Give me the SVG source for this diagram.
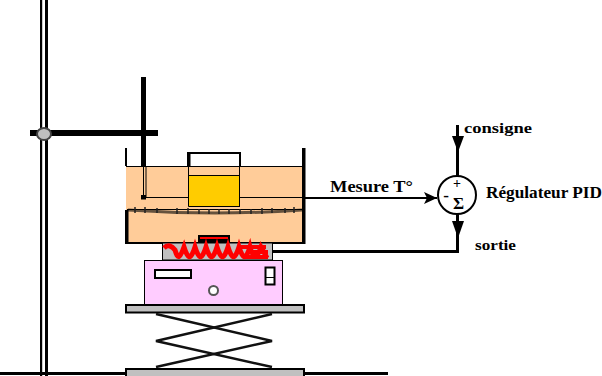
<svg xmlns="http://www.w3.org/2000/svg" width="602" height="376" viewBox="0 0 602 376">
<style>
.t{font-family:"Liberation Serif",serif;fill:#000;font-weight:bold}
.l{fill:none;stroke:#000}
.s{stroke:#111;stroke-width:2.500;fill:none}
</style>
<defs>
<marker id="a" markerUnits="userSpaceOnUse" markerWidth="14" markerHeight="14" refX="13" refY="7" orient="auto"><path d="M0 1L13 7L0 13L3 7Z" fill="#000"/></marker>
</defs>
<rect width="602" height="376" fill="#fff"/>
<g id="stand">
<rect x="40" y="0" width="2.200" height="376"/><rect x="45" y="0" width="3" height="376"/>
<rect x="0" y="372" width="388" height="3"/>
<rect x="30" y="130" width="128" height="6"/>
<rect x="141" y="77" width="5" height="90"/>
<ellipse cx="44" cy="134" rx="7" ry="6" fill="#c0c0c0" stroke="#444" stroke-width="2"/>
</g>
<g id="bath">
<rect x="126" y="166.500" width="177" height="76" fill="#fc9"/>
<path class="l" stroke-width="1" d="M126 166.500H303"/>
<path class="l" stroke-width="2" d="M126 148V166"/>
<path class="l" stroke-width="2" d="M126 210V243H304"/>
<rect x="125.500" y="210" width="3" height="34"/>
<rect x="302" y="148" width="3.500" height="96"/>
<path class="l" stroke-width="1" d="M143.500 166V197M146 166V197M146 197.500H188M240 197.500H303"/>
<rect x="141" y="195" width="5" height="4.500"/>
</g>
<g id="beaker">
<rect x="188.500" y="175.500" width="51" height="31" fill="#fc0"/>
<path class="l" stroke-width="2" d="M188 166V153H240V166"/>
<path class="l" stroke-width="1" d="M188.500 166V206.500H240M239.500 166V206.500M188.500 175.500H240"/>
<rect x="188" y="153" width="2.500" height="14"/>
</g>
<g id="stirrer">
<path class="l" stroke="#7a6040" stroke-width="3" opacity=".6" d="M128 210Q215 216 302 210"/>
<path class="l" stroke-width="1" d="M127 209.500H303"/>
<path d="M135 207V213M145 207V213M157 208V213M177 208V214M188 208V214M199 209V214M209 209V214M219 209V214M229 209V214M240 209V214M251 209V214M262 208V214M272 208V213M285 208V213M294 207V213" stroke="#222" stroke-width="1.500" fill="none"/>
</g>
<g id="heater">
<rect x="162.500" y="243" width="110" height="17" fill="#c0c0c0" stroke="#000"/>
<rect x="198" y="235" width="32" height="8"/>
<rect x="200" y="237" width="28" height="2" fill="#f00"/>
<path d="M164 248C168 244 172 246 175 250C178 260 180 258 184 247C188 260 191 260 195 247C199 260 202 260 206 247C210 260 213 260 217 247C221 260 224 260 228 247C232 260 235 260 239 247C243 260 246 260 250 247C253 259 257 259 261 247C264 252 266 256 267 258" fill="none" stroke="#f00" stroke-width="5"/>
<path d="M238 247H266M248 252H268M244 257H268" stroke="#f00" stroke-width="4" fill="none"/>
</g>
<g id="hotplate">
<rect x="144.500" y="260.500" width="138" height="44" fill="#fcf" stroke="#000"/>
<rect x="155" y="270" width="36" height="8" fill="#fff" stroke="#000" stroke-width="2"/>
<rect x="265.500" y="267.500" width="9" height="17" fill="#fff" stroke="#000" stroke-width="2"/>
<path class="l" d="M265 277.500H275"/>
<circle cx="213.500" cy="290.500" r="4.500" fill="#fff" stroke="#555" stroke-width="2"/>
</g>
<g id="jack">
<rect x="126" y="305" width="178" height="7.500" fill="#c0c0c0" stroke="#000" stroke-width="2"/>
<path class="s" d="M156 314L272 341L156 367"/>
<path class="s" d="M272 314L156 341L272 367"/>
<rect x="126" y="369" width="178" height="8" fill="#c0c0c0" stroke="#000" stroke-width="2"/>
</g>
<g id="connectors">
<path class="l" stroke-width="2" d="M305 198H437" marker-end="url(#a)"/>
<path class="l" stroke-width="3" d="M457.500 125V176" />
<path d="M452 136H464L458 152Z"/>
<path class="l" stroke-width="3" d="M457.500 214V251.500H273"/>
<path d="M452 221H464L458 238Z"/>
</g>
<g id="regulator">
<circle cx="457" cy="195" r="19" fill="#fff" stroke="#000" stroke-width="2"/>
<text x="457" y="188" class="t" font-size="14" text-anchor="middle">+</text>
<text x="446" y="201" class="t" font-size="17" text-anchor="middle">-</text>
<text x="458.500" y="208.500" class="t" font-size="17" text-anchor="middle">Σ</text>
</g>
<g id="labels">
<text x="330" y="192" class="t" font-size="16" textLength="83" lengthAdjust="spacingAndGlyphs">Mesure T°</text>
<text x="486" y="198" class="t" font-size="16" textLength="116" lengthAdjust="spacingAndGlyphs">Régulateur PID</text>
<text x="464" y="133" class="t" font-size="15" textLength="68" lengthAdjust="spacingAndGlyphs">consigne</text>
<text x="475" y="250" class="t" font-size="15" textLength="41" lengthAdjust="spacingAndGlyphs">sortie</text>
</g>
</svg>
